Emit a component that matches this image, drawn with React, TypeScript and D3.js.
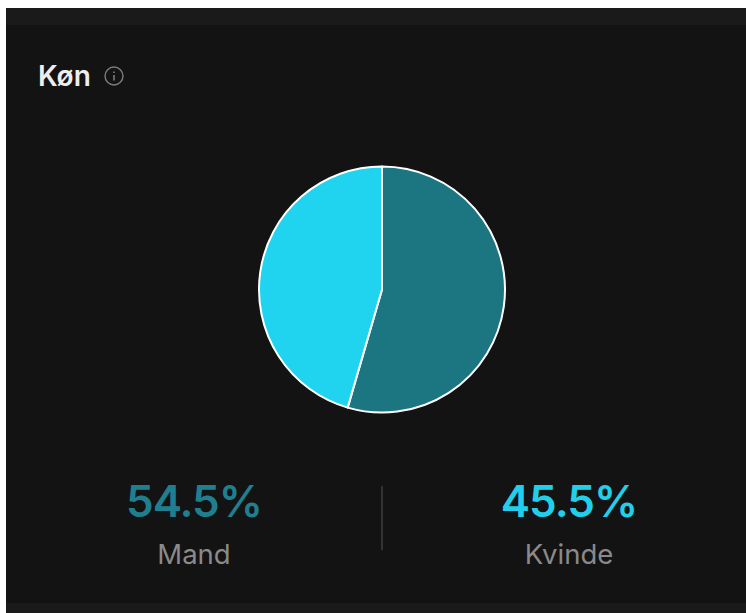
import React from "react";
import * as d3 from "d3";

const categories = ["Mand", "Kvinde"];
const shares = [54.5, 45.5];
const sliceColors = ["#1b7682", "#20d3ee"];
const labelColors = ["#1f7f8e", "#22cfea"];

const WIDTH = 746;
const HEIGHT = 613;
const FONT = "Inter, 'Open Sans', sans-serif";

export default function App() {
  const pie = d3.pie<number>().sort(null).value((d) => d);
  const arc = d3.arc<d3.PieArcDatum<number>>().innerRadius(0).outerRadius(123);
  const slices = pie(shares);
  const labelX = d3.scalePoint<string>().domain(categories).range([194, 569]);

  return (
    <svg
      width={WIDTH}
      height={HEIGHT}
      style={{ position: "absolute", left: 0, top: 0, display: "block" }}
    >
      <rect width={WIDTH} height={HEIGHT} fill="#ffffff" />
      <rect x={6} y={8} width={WIDTH - 6} height={HEIGHT - 8} fill="#131313" />
      <rect x={6} y={8} width={WIDTH - 6} height={17} fill="#1a1a1a" />
      <rect x={6} y={603} width={WIDTH - 6} height={10} fill="#1a1a1a" />

      <text x={38} y={86} fontFamily={FONT} fontSize={28} fontWeight={600} fill="#eeeeee">
        Køn
      </text>
      <g transform="translate(114,76)" fill="none" stroke="#7c7c7c">
        <circle r={9} strokeWidth={1.4} />
        <line y1={-1} y2={4.5} strokeWidth={1.6} />
        <line y1={-4.5} y2={-3} strokeWidth={1.6} />
      </g>

      <g transform="translate(382,289.5)">
        {slices.map((s, i) => (
          <path
            key={categories[i]}
            d={arc(s) ?? ""}
            fill={sliceColors[i]}
            stroke="#ffffff"
            strokeWidth={2}
            strokeLinejoin="round"
          />
        ))}
      </g>

      <line x1={382} x2={382} y1={486} y2={550} stroke="#333333" strokeWidth={2} />

      {categories.map((c, i) => (
        <g key={c}>
          <text
            x={labelX(c)}
            y={517}
            textAnchor="middle"
            fontFamily={FONT}
            fontSize={44}
            fontWeight={600}
            letterSpacing={-1}
            fill={labelColors[i]}
          >
            {shares[i].toFixed(1)}%
          </text>
          <text
            x={labelX(c)}
            y={564}
            textAnchor="middle"
            fontFamily={FONT}
            fontSize={27.5}
            fill="#8a8a8a"
          >
            {c}
          </text>
        </g>
      ))}
    </svg>
  );
}
